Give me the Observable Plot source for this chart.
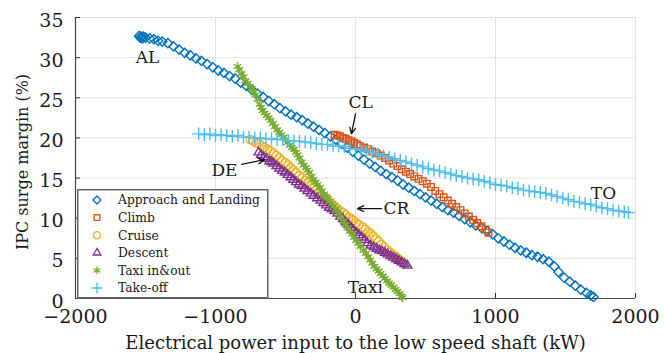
<!DOCTYPE html>
<html><head><meta charset="utf-8">
<script src="https://cdn.jsdelivr.net/npm/d3@7"></script>
<script src="https://cdn.jsdelivr.net/npm/@observablehq/plot@0.6"></script>
<style>
body{margin:0;background:#fff;}
#wrap{position:relative;width:664px;height:353px;overflow:hidden;}
#legend{position:absolute;left:77px;top:189px;}
</style></head><body><div id="wrap"></div>
<script>
// ---- data (x: kW, y: %) ----
const seriesNames = ["Approach and Landing","Climb","Cruise","Descent","Taxi in&out","Take-off"];
const seriesColors = ["#0072BD","#D95319","#EDB120","#7E2F8E","#77AC30","#4DBEEE"];
const seriesSymbols = ["diamond2","square2","circle","triangle2","asterisk","plus"];

const approachLanding = [[-1545,32.7],[-1538,32.5],[-1530,32.6],[-1522,32.4],[-1515,32.6],[-1500,32.5],[-1470,32.4],[-1440,32.3],[-1410,32.1],[-1380,32.0],[-1340,31.8],[-1300,31.4],[-1260,31.0],[-1220,30.6],[-1180,30.3],[-1140,29.9],[-1100,29.6],[-1060,29.2],[-1020,28.8],[-980,28.4],[-940,28.1],[-900,27.7],[-860,27.4],[-820,26.9],[-780,26.5],[-740,26.0],[-700,25.5],[-660,25.1],[-620,24.6],[-580,24.2],[-540,23.7],[-500,23.3],[-460,22.9],[-420,22.6],[-380,22.2],[-340,21.8],[-300,21.4],[-260,21.0],[-220,20.6],[-180,20.2],[-140,19.8],[-100,19.3],[-60,18.8],[-20,18.3],[20,17.8],[60,17.3],[100,16.8],[140,16.4],[180,15.9],[220,15.5],[260,15.1],[300,14.7],[340,14.2],[380,13.8],[420,13.4],[460,13.0],[500,12.6],[540,12.2],[580,11.8],[620,11.4],[660,11.0],[700,10.7],[740,10.3],[780,9.9],[820,9.5],[860,9.1],[900,8.8],[940,8.4],[980,8.0],[1020,7.5],[1060,7.1],[1100,6.7],[1140,6.3],[1180,6.0],[1220,5.7],[1260,5.4],[1300,5.2],[1340,4.9],[1380,4.6],[1420,4.0],[1450,3.3],[1490,2.6],[1530,2.1],[1570,1.6],[1610,1.1],[1650,0.7],[1680,0.4],[1700,0.2]];

const climb = [[-150,20.4],[-130,20.3],[-110,20.2],[-90,20.0],[-70,19.9],[-50,19.7],[-30,19.6],[-10,19.4],[10,19.2],[30,19.0],[60,18.8],[90,18.6],[120,18.3],[150,18.1],[180,17.8],[210,17.5],[240,17.2],[270,16.8],[300,16.5],[330,16.1],[360,15.8],[390,15.5],[420,15.2],[450,14.9],[480,14.6],[510,14.3],[540,13.9],[570,13.4],[600,13.0],[630,12.6],[660,12.2],[690,11.8],[720,11.4],[750,11.0],[780,10.6],[810,10.2],[840,9.8],[870,9.4],[900,9.0],[930,8.6],[950,8.2]];

const cruise = [[-750,19.8],[-730,19.6],[-710,19.4],[-690,19.3],[-670,19.0],[-650,18.8],[-630,18.6],[-610,18.4],[-586,18.1],[-565,17.8],[-545,17.5],[-525,17.2],[-500,16.9],[-480,16.6],[-464,16.3],[-445,16.0],[-425,15.7],[-400,15.3],[-380,15.0],[-360,14.7],[-343,14.4],[-325,14.1],[-305,13.8],[-285,13.5],[-265,13.2],[-250,13.0],[-230,12.7],[-210,12.4],[-190,12.1],[-170,11.8],[-150,11.5],[-129,11.2],[-110,10.9],[-90,10.7],[-70,10.4],[-50,10.1],[-30,9.9],[-14,9.7],[5,9.4],[25,9.2],[50,8.9],[70,8.6],[90,8.3],[107,8.1],[125,7.8],[145,7.4],[165,7.1],[185,6.7],[205,6.4],[229,6.0],[250,5.7],[270,5.4],[290,5.2],[310,4.9],[330,4.6],[343,4.4]];

const descent = [[-693,18.2],[-675,17.9],[-655,17.6],[-635,17.4],[-615,17.1],[-600,17.0],[-586,16.8],[-565,16.5],[-545,16.2],[-525,15.9],[-505,15.7],[-485,15.4],[-464,15.1],[-445,14.8],[-425,14.5],[-405,14.2],[-385,14.0],[-365,13.7],[-343,13.4],[-320,13.1],[-300,12.8],[-275,12.5],[-250,12.2],[-230,11.9],[-210,11.6],[-190,11.3],[-170,11.1],[-150,10.9],[-129,10.6],[-110,10.2],[-90,9.9],[-70,9.5],[-50,9.2],[-30,8.8],[-14,8.5],[5,8.2],[25,7.9],[45,7.6],[65,7.3],[85,6.9],[107,6.6],[130,6.4],[150,6.2],[170,6.0],[190,5.9],[210,5.7],[229,5.5],[250,5.3],[270,5.1],[290,4.9],[310,4.7],[330,4.5],[350,4.3],[371,4.1]];

const taxi = [[-843,28.9],[-830,28.5],[-815,28.0],[-800,27.6],[-786,27.1],[-770,26.8],[-755,26.4],[-740,26.1],[-725,25.7],[-714,25.4],[-700,24.8],[-685,24.2],[-675,23.8],[-664,23.4],[-650,23.1],[-635,22.8],[-620,22.5],[-607,22.2],[-590,21.8],[-575,21.4],[-560,21.0],[-545,20.7],[-530,20.4],[-514,20.1],[-500,19.8],[-485,19.4],[-470,19.1],[-455,18.8],[-440,18.6],[-425,18.2],[-414,17.9],[-400,17.5],[-385,17.0],[-370,16.6],[-355,16.3],[-343,16.0],[-330,15.7],[-315,15.2],[-300,14.8],[-285,14.5],[-271,14.2],[-255,13.8],[-240,13.4],[-225,13.0],[-210,12.7],[-200,12.5],[-185,12.1],[-170,11.8],[-155,11.5],[-140,11.2],[-129,10.9],[-115,10.5],[-100,10.1],[-85,9.6],[-70,9.2],[-57,8.8],[-40,8.4],[-25,8.0],[-10,7.6],[5,7.2],[20,6.9],[35,6.5],[57,6.0],[75,5.6],[90,5.2],[105,4.8],[120,4.4],[135,4.0],[150,3.7],[165,3.4],[179,3.1],[195,2.8],[210,2.5],[225,2.2],[240,1.9],[255,1.7],[270,1.4],[285,1.1],[300,0.9],[315,0.6],[328,0.3],[336,0.1]];

const takeOff = [[-1120,20.5],[-1080,20.4],[-1040,20.5],[-1000,20.3],[-960,20.4],[-920,20.3],[-880,20.2],[-840,20.3],[-800,20.1],[-760,20.1],[-720,20.0],[-680,20.0],[-640,19.9],[-600,19.9],[-560,19.8],[-520,19.8],[-480,19.7],[-440,19.6],[-400,19.6],[-360,19.5],[-320,19.4],[-280,19.3],[-240,19.2],[-200,19.2],[-160,19.0],[-120,19.0],[-80,18.9],[-40,18.7],[0,18.6],[40,18.5],[80,18.3],[120,18.2],[160,18.0],[200,17.8],[240,17.6],[280,17.4],[320,17.2],[360,17.0],[400,16.8],[440,16.6],[480,16.4],[520,16.2],[560,16.0],[600,15.9],[640,15.7],[680,15.5],[720,15.3],[760,15.2],[800,15.0],[840,14.9],[880,14.8],[920,14.6],[960,14.4],[1000,14.2],[1040,14.1],[1080,14.0],[1120,13.8],[1160,13.7],[1200,13.5],[1240,13.4],[1280,13.3],[1320,13.2],[1360,13.1],[1400,12.9],[1440,12.7],[1480,12.5],[1520,12.3],[1560,12.1],[1600,12.0],[1640,11.8],[1680,11.7],[1720,11.5],[1760,11.3],[1800,11.2],[1840,11.0],[1880,10.9],[1920,10.8],[1950,10.7]];

const seriesData = [approachLanding, climb, cruise, descent, taxi, takeOff];

const xTicks = [-2000,-1000,0,1000,2000];
const yTicks = [0,5,10,15,20,25,30,35];

// annotations (data coordinates)
const labelTexts = ["AL","CL","DE","CR","TO","Taxi"];
const labelX = [-1486, 36, -936, 293, 1771, 71];
const labelY = [30.0, 24.4, 15.9, 11.2, 13.1, 1.4];
const arrowFrom = [[0,23.0],[-814,16.7],[186,11.2]];
const arrowTo = [[-29,20.5],[-650,17.3],[14,11.2]];

const xLabel = "Electrical power input to the low speed shaft (kW)";
const yLabel = "IPC surge margin (%)";

// ---- chart ----
const font = "DejaVu Serif";
const fmt = d => (d < 0 ? "\u2212" : "") + Math.abs(d);
const labels = labelTexts.map((t,i)=>({t, x:labelX[i], y:labelY[i]}));
const arrows = arrowFrom.map((a,i)=>({x1:a[0],y1:a[1],x2:arrowTo[i][0],y2:arrowTo[i][1]}));

const marks = [
  Plot.gridX(xTicks, {stroke:"#e3e3e3", strokeOpacity:1}),
  Plot.gridY(yTicks, {stroke:"#e3e3e3", strokeOpacity:1}),
  Plot.axisX(xTicks, {tickSize:-5, stroke:"#333", tickFormat:()=>"", label:null}),
  Plot.axisY(yTicks, {tickSize:-5, stroke:"#333", tickFormat:()=>"", label:null}),
  Plot.axisX(xTicks, {tickSize:0, tickPadding:11, fontSize:19, fill:"#1a1a1a", tickFormat:fmt, label:null}),
  Plot.axisY(yTicks, {tickSize:0, tickPadding:12, fontSize:19, dy:3, fill:"#1a1a1a", tickFormat:fmt, label:null}),
  Plot.ruleX([xTicks[0]], {stroke:"#444", strokeWidth:1.2}),
  Plot.ruleY([yTicks[0]], {stroke:"#444", strokeWidth:1.2}),
];
seriesData.forEach((d,i)=>{
  marks.push(Plot.dot(d, {x:p=>p[0], y:p=>p[1], symbol:seriesSymbols[i], stroke:seriesColors[i], fill:"none", r:4.2, strokeWidth:1.4}));
});
marks.push(
  Plot.text(labels, {x:"x", y:"y", text:"t", fontSize:17, fill:"#1a1a1a"}),
  Plot.arrow(arrows, {x1:"x1", y1:"y1", x2:"x2", y2:"y2", stroke:"#111", strokeWidth:1.3, headLength:8, headAngle:50}),
  Plot.text([xLabel], {frameAnchor:"bottom", textAnchor:"middle", lineAnchor:"middle", dy:45, fontSize:18, fill:"#1a1a1a"}),
  Plot.text([yLabel], {frameAnchor:"left", textAnchor:"middle", lineAnchor:"middle", rotate:-90, dx:-53, dy:4, fontSize:16, fill:"#1a1a1a"})
);

const chart = Plot.plot({
  width:664, height:353,
  marginLeft:75, marginRight:29, marginTop:17, marginBottom:55,
  style:{fontFamily:font, fontSize:"19px", background:"#fff", color:"#1a1a1a"},
  x:{domain:[-2000,2000]},
  y:{domain:[0,35]},
  marks
});
const wrap = document.getElementById("wrap");
wrap.appendChild(chart);

// ---- legend ----
const lg = d3.select(wrap).append("svg").attr("id","legend").attr("width",192).attr("height",110)
  .style("font-family",font);
lg.append("rect").attr("x",0.75).attr("y",0.75).attr("width",190).attr("height",108)
  .attr("fill","#fff").attr("stroke","#666").attr("stroke-width",1.5);
const symMap = {diamond2:d3.symbolDiamond2, square2:d3.symbolSquare2, circle:d3.symbolCircle, triangle2:d3.symbolTriangle2, asterisk:d3.symbolAsterisk, plus:d3.symbolPlus};
seriesNames.forEach((n,i)=>{
  const y = 11 + i*17.6;
  lg.append("path").attr("transform",`translate(20,${y})`)
    .attr("d", d3.symbol(symMap[seriesSymbols[i]], Math.PI*3.6*3.6)())
    .attr("fill","none").attr("stroke",seriesColors[i]).attr("stroke-width",1.3);
  lg.append("text").attr("x",41).attr("y",y).attr("dy","0.35em").attr("font-size",12.3).attr("fill","#1a1a1a").text(n);
});
</script></body></html>
